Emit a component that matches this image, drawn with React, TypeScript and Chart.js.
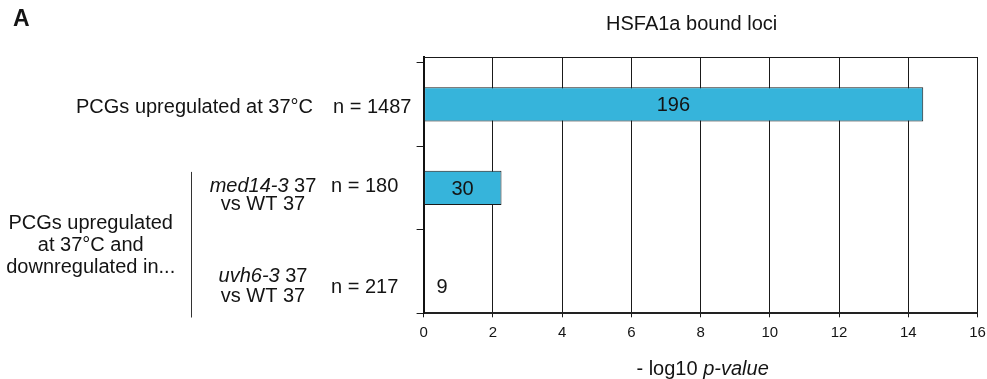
import React, { useEffect, useRef } from 'react';
import { Chart, registerables } from 'chart.js';

Chart.register(...registerables);

// ---- data ----
const categories = ['PCGs upregulated at 37°C', 'med14-3 37 vs WT 37', 'uvh6-3 37 vs WT 37'];
const pValues = [14.43, 2.25, 0];
const boundCounts = [196, 30, 9];
const geneCounts = ['n = 1487', 'n = 180', 'n = 217'];
const xTickValues = [0, 2, 4, 6, 8, 10, 12, 14, 16];
const chartTitle = 'HSFA1a bound loci';
const panelLabel = 'A';
const xAxisTitle = [
  { t: '- log10 ', i: false },
  { t: 'p-value', i: true },
];
const groupLabel = ['PCGs upregulated', 'at 37°C and', 'downregulated in...'];
type Seg = { t: string; i: boolean };
const rowLabelLines: Seg[][][] = [
  [[{ t: 'PCGs upregulated at 37°C', i: false }]],
  [
    [{ t: 'med14-3', i: true }, { t: ' 37', i: false }],
    [{ t: 'vs WT 37', i: false }],
  ],
  [
    [{ t: 'uvh6-3', i: true }, { t: ' 37', i: false }],
    [{ t: 'vs WT 37', i: false }],
  ],
];

// ---- style ----
const FAMILY = '"Liberation Sans", Arial, Helvetica, sans-serif';
const TEXT = '#141414';
const BAR_FILL = '#36B4DB';
const LINE = '#1a1a1a';
const LABEL_SIZE = 20;

function font(size: number, italic = false, bold = false) {
  return `${italic ? 'italic ' : ''}${bold ? 'bold ' : ''}${size}px ${FAMILY}`;
}

function drawSegs(ctx: CanvasRenderingContext2D, segs: Seg[], x: number, y: number, align: 'left' | 'center' | 'right', size: number) {
  const widths = segs.map((s) => {
    ctx.font = font(size, s.i);
    return ctx.measureText(s.t).width;
  });
  const total = widths.reduce((a, b) => a + b, 0);
  let cx = align === 'center' ? x - total / 2 : align === 'right' ? x - total : x;
  ctx.textAlign = 'left';
  ctx.textBaseline = 'alphabetic';
  segs.forEach((s, k) => {
    ctx.font = font(size, s.i);
    ctx.fillText(s.t, cx, y);
    cx += widths[k];
  });
}

const annotations = {
  id: 'annotations',
  afterDraw(chart: any) {
    const { ctx, chartArea, scales } = chart;
    const y = scales.y;
    const x = scales.x;
    ctx.save();
    // top border of the plot box
    ctx.strokeStyle = LINE;
    ctx.lineWidth = 1;
    ctx.beginPath();
    ctx.moveTo(chartArea.left, Math.round(chartArea.top) + 0.5);
    ctx.lineTo(chartArea.right, Math.round(chartArea.top) + 0.5);
    ctx.stroke();

    ctx.fillStyle = TEXT;
    // panel label
    ctx.font = font(23, false, true);
    ctx.textAlign = 'left';
    ctx.textBaseline = 'alphabetic';
    ctx.fillText(panelLabel, 13, 26);

    // chart title
    ctx.font = font(LABEL_SIZE);
    ctx.textAlign = 'center';
    ctx.fillText(chartTitle, (chartArea.left + chartArea.right) / 2 - 9, 30);

    // x axis title
    drawSegs(ctx, xAxisTitle, (chartArea.left + chartArea.right) / 2 + 2, 375, 'center', LABEL_SIZE);

    const yc = categories.map((_, i) => y.getPixelForValue(i));

    // row labels
    drawSegs(ctx, rowLabelLines[0][0], 313, yc[0] + 8.4, 'right', LABEL_SIZE);
    drawSegs(ctx, rowLabelLines[1][0], 263, yc[1] + 4.2, 'center', LABEL_SIZE);
    drawSegs(ctx, rowLabelLines[1][1], 263, yc[1] + 22.2, 'center', LABEL_SIZE);
    drawSegs(ctx, rowLabelLines[2][0], 263, yc[2] + 10.4, 'center', LABEL_SIZE);
    drawSegs(ctx, rowLabelLines[2][1], 263, yc[2] + 30.4, 'center', LABEL_SIZE);

    // n = ... labels
    ctx.font = font(LABEL_SIZE);
    ctx.textAlign = 'left';
    ctx.fillText(geneCounts[0], 333, yc[0] + 8.4);
    ctx.fillText(geneCounts[1], 331, yc[1] + 4.2);
    ctx.fillText(geneCounts[2], 331, yc[2] + 21.4);

    // group label + bracket line
    const mid = (yc[1] + yc[2]) / 2;
    ctx.textAlign = 'center';
    groupLabel.forEach((line, k) => {
      ctx.fillText(line, 90.7, mid - 1.2 + k * 22.2);
    });
    ctx.strokeStyle = '#333';
    ctx.beginPath();
    ctx.moveTo(191.5, yc[1] - 16);
    ctx.lineTo(191.5, yc[2] + 46);
    ctx.stroke();

    // count labels on bars
    const meta = chart.getDatasetMeta(0);
    ctx.font = font(LABEL_SIZE);
    boundCounts.forEach((c, i) => {
      const bar = meta.data[i];
      const txt = String(c);
      const w = ctx.measureText(txt).width;
      const x0 = x.getPixelForValue(0);
      const barW = bar.x - x0;
      if (barW > w + 8) {
        ctx.textAlign = 'center';
        ctx.fillText(txt, (bar.x + x0) / 2, bar.y + 7);
      } else {
        ctx.textAlign = 'left';
        ctx.fillText(txt, x0 + 13, bar.y + 21);
      }
    });
    ctx.restore();
  },
};

export default function App() {
  const canvasRef = useRef<HTMLCanvasElement | null>(null);

  useEffect(() => {
    const canvas = canvasRef.current;
    if (!canvas) return;
    const chart = new Chart(canvas, {
      type: 'bar',
      data: {
        datasets: [
          {
            data: pValues.map((v, i) => ({ x: v, y: i })),
            backgroundColor: BAR_FILL,
            borderColor: LINE,
            borderWidth: 1,
            borderSkipped: false,
            barPercentage: 0.41,
            categoryPercentage: 1,
          },
        ],
      },
      options: {
        indexAxis: 'y',
        animation: false,
        responsive: false,
        devicePixelRatio: 1,
        layout: { padding: { left: 416.6, right: 1.4, top: 57, bottom: 29.7 } },
        plugins: {
          legend: { display: false },
          tooltip: { enabled: false },
          title: { display: false },
        },
        scales: {
          x: {
            type: 'linear',
            min: 0,
            max: 16,
            afterBuildTicks: (scale: any) => {
              scale.ticks = xTickValues.map((v) => ({ value: v }));
            },
            afterFit: (scale: any) => {
              scale.paddingRight = 9.4;
            },
            grid: { color: LINE, lineWidth: 1, tickLength: 4, drawTicks: true },
            border: { display: true, color: '#222', width: 2 },
            ticks: {
              color: TEXT,
              font: { family: FAMILY, size: 15 },
              padding: 7,
              maxRotation: 0,
            },
          },
          y: {
            type: 'linear',
            reverse: true,
            offset: false,
            min: -0.566,
            max: 2.5,
            afterBuildTicks: (scale: any) => {
              scale.ticks = [-0.5, 0.5, 1.5, 2.5].map((v) => ({ value: v }));
            },
            grid: { offset: false, drawOnChartArea: false, drawTicks: true, tickLength: 7, color: LINE },
            border: { display: true, color: '#111', width: 2 },
            ticks: { display: false },
          },
        },
      },
      plugins: [annotations],
    } as any);
    return () => chart.destroy();
  }, []);

  return (
    <div style={{ position: 'absolute', left: 0, top: 0, width: 987, height: 379, background: '#fff' }}>
      <canvas ref={canvasRef} width={987} height={379} style={{ display: 'block', width: 987, height: 379 }} />
    </div>
  );
}
